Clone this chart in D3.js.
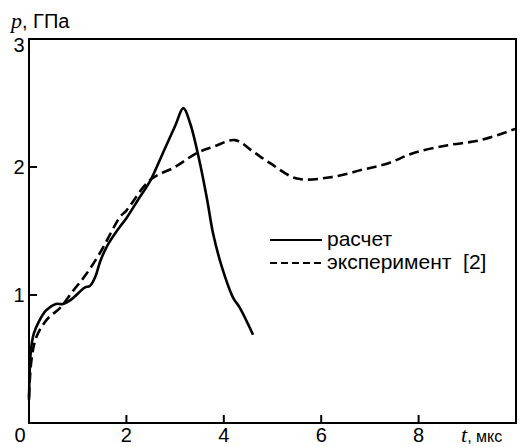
<!DOCTYPE html>
<html>
<head>
<meta charset="utf-8">
<style>
  body { margin: 0; background: #fff; }
  text { font-family: "Liberation Sans", Arial, sans-serif; fill: #000; }
  .it { font-family: "Liberation Serif", "Times New Roman", serif; font-style: italic; }
</style>
</head>
<body>
<svg id="chart" width="520" height="447"></svg>
<script src="https://d3js.org/d3.v7.min.js"></script>
<script>
// calculated curve (расчет)
var tCalc = [0, 0.04, 0.1, 0.2, 0.35, 0.55, 0.7, 0.85, 1.0, 1.15, 1.25, 1.36, 1.46, 1.6, 1.86, 2.0, 2.25, 2.5, 2.75, 3.0, 3.17, 3.31, 3.51, 3.66, 3.78, 3.96, 4.19, 4.33, 4.6];
var pCalc = [0.18, 0.57, 0.7, 0.79, 0.88, 0.93, 0.93, 0.96, 1.01, 1.06, 1.07, 1.14, 1.26, 1.38, 1.53, 1.6, 1.75, 1.9, 2.11, 2.32, 2.46, 2.34, 2.03, 1.74, 1.48, 1.22, 0.98, 0.9, 0.69];
// experiment curve (эксперимент [2])
var tExp = [0, 0.05, 0.15, 0.37, 0.64, 0.9, 1.15, 1.46, 1.87, 2.0, 2.49, 3.0, 3.45, 3.8, 4.23, 4.6, 4.95, 5.5, 6.19, 6.86, 7.38, 7.9, 8.6, 9.27, 10];
var pExp = [0.2, 0.49, 0.67, 0.81, 0.9, 1.03, 1.15, 1.33, 1.61, 1.66, 1.9, 2.0, 2.11, 2.16, 2.21, 2.12, 2.03, 1.91, 1.92, 1.98, 2.03, 2.11, 2.17, 2.21, 2.3];

var xTicks = [0, 2, 4, 6, 8];
var yTicks = [1, 2, 3];
var legendLabels = ["расчет", "эксперимент  [2]"];

var svg = d3.select("#chart");
var x = d3.scaleLinear().domain([0, 10]).range([29, 516]);
var y = d3.scaleLinear().domain([0, 3]).range([423, 39]);

// frame
svg.append("rect")
    .attr("x", x(0)).attr("y", y(3))
    .attr("width", x(10) - x(0)).attr("height", y(0) - y(3))
    .attr("fill", "none").attr("stroke", "#000").attr("stroke-width", 2);

// x ticks (inward)
svg.selectAll(".xt").data(xTicks.slice(1)).enter().append("line")
    .attr("x1", function(d){ return x(d); }).attr("x2", function(d){ return x(d); })
    .attr("y1", y(0)).attr("y2", y(0) - 8)
    .attr("stroke", "#000").attr("stroke-width", 2);
svg.selectAll(".xl").data(xTicks).enter().append("text")
    .attr("x", function(d){ return d === 0 ? 20 : x(d); })
    .attr("y", 442)
    .attr("text-anchor", "middle")
    .attr("font-size", 20)
    .text(function(d){ return d; });

// y ticks (inward)
svg.selectAll(".yt").data(yTicks.slice(0, 2)).enter().append("line")
    .attr("x1", x(0)).attr("x2", x(0) + 8)
    .attr("y1", function(d){ return y(d); }).attr("y2", function(d){ return y(d); })
    .attr("stroke", "#000").attr("stroke-width", 2);
svg.selectAll(".yl").data(yTicks).enter().append("text")
    .attr("x", 19)
    .attr("y", function(d){ return d === 3 ? y(d) + 13 : y(d) + 7; })
    .attr("text-anchor", "middle")
    .attr("font-size", 20)
    .text(function(d){ return d; });

// axis titles
var yt = svg.append("text").attr("x", 11).attr("y", 28).attr("font-size", 20);
yt.append("tspan").attr("class", "it").attr("font-size", 22).text("p");
yt.append("tspan").text(", ГПа");
var xt = svg.append("text").attr("x", 461).attr("y", 442).attr("font-size", 16);
xt.append("tspan").attr("class", "it").attr("font-size", 22).text("t");
xt.append("tspan").text(", мкс");

var line = d3.line()
    .x(function(d){ return x(d[0]); })
    .y(function(d){ return y(d[1]); })
    .curve(d3.curveCatmullRom.alpha(0.5));

svg.append("path")
    .attr("d", line(d3.zip(tExp, pExp)))
    .attr("fill", "none").attr("stroke", "#000").attr("stroke-width", 2.6)
    .attr("stroke-dasharray", "10,5");
svg.append("path")
    .attr("d", line(d3.zip(tCalc, pCalc)))
    .attr("fill", "none").attr("stroke", "#000").attr("stroke-width", 2.6);

// legend
var lg = svg.append("g");
lg.append("line").attr("x1", 270).attr("x2", 322).attr("y1", 240).attr("y2", 240)
    .attr("stroke", "#000").attr("stroke-width", 2);
lg.append("line").attr("x1", 270).attr("x2", 322).attr("y1", 263).attr("y2", 263)
    .attr("stroke", "#000").attr("stroke-width", 2).attr("stroke-dasharray", "7,4");
lg.selectAll("text").data(legendLabels).enter().append("text")
    .attr("x", 327)
    .attr("y", function(d, i){ return 246 + i * 23; })
    .attr("font-size", 21)
    .style("white-space", "pre")
    .text(function(d){ return d; });
</script>
</body>
</html>
